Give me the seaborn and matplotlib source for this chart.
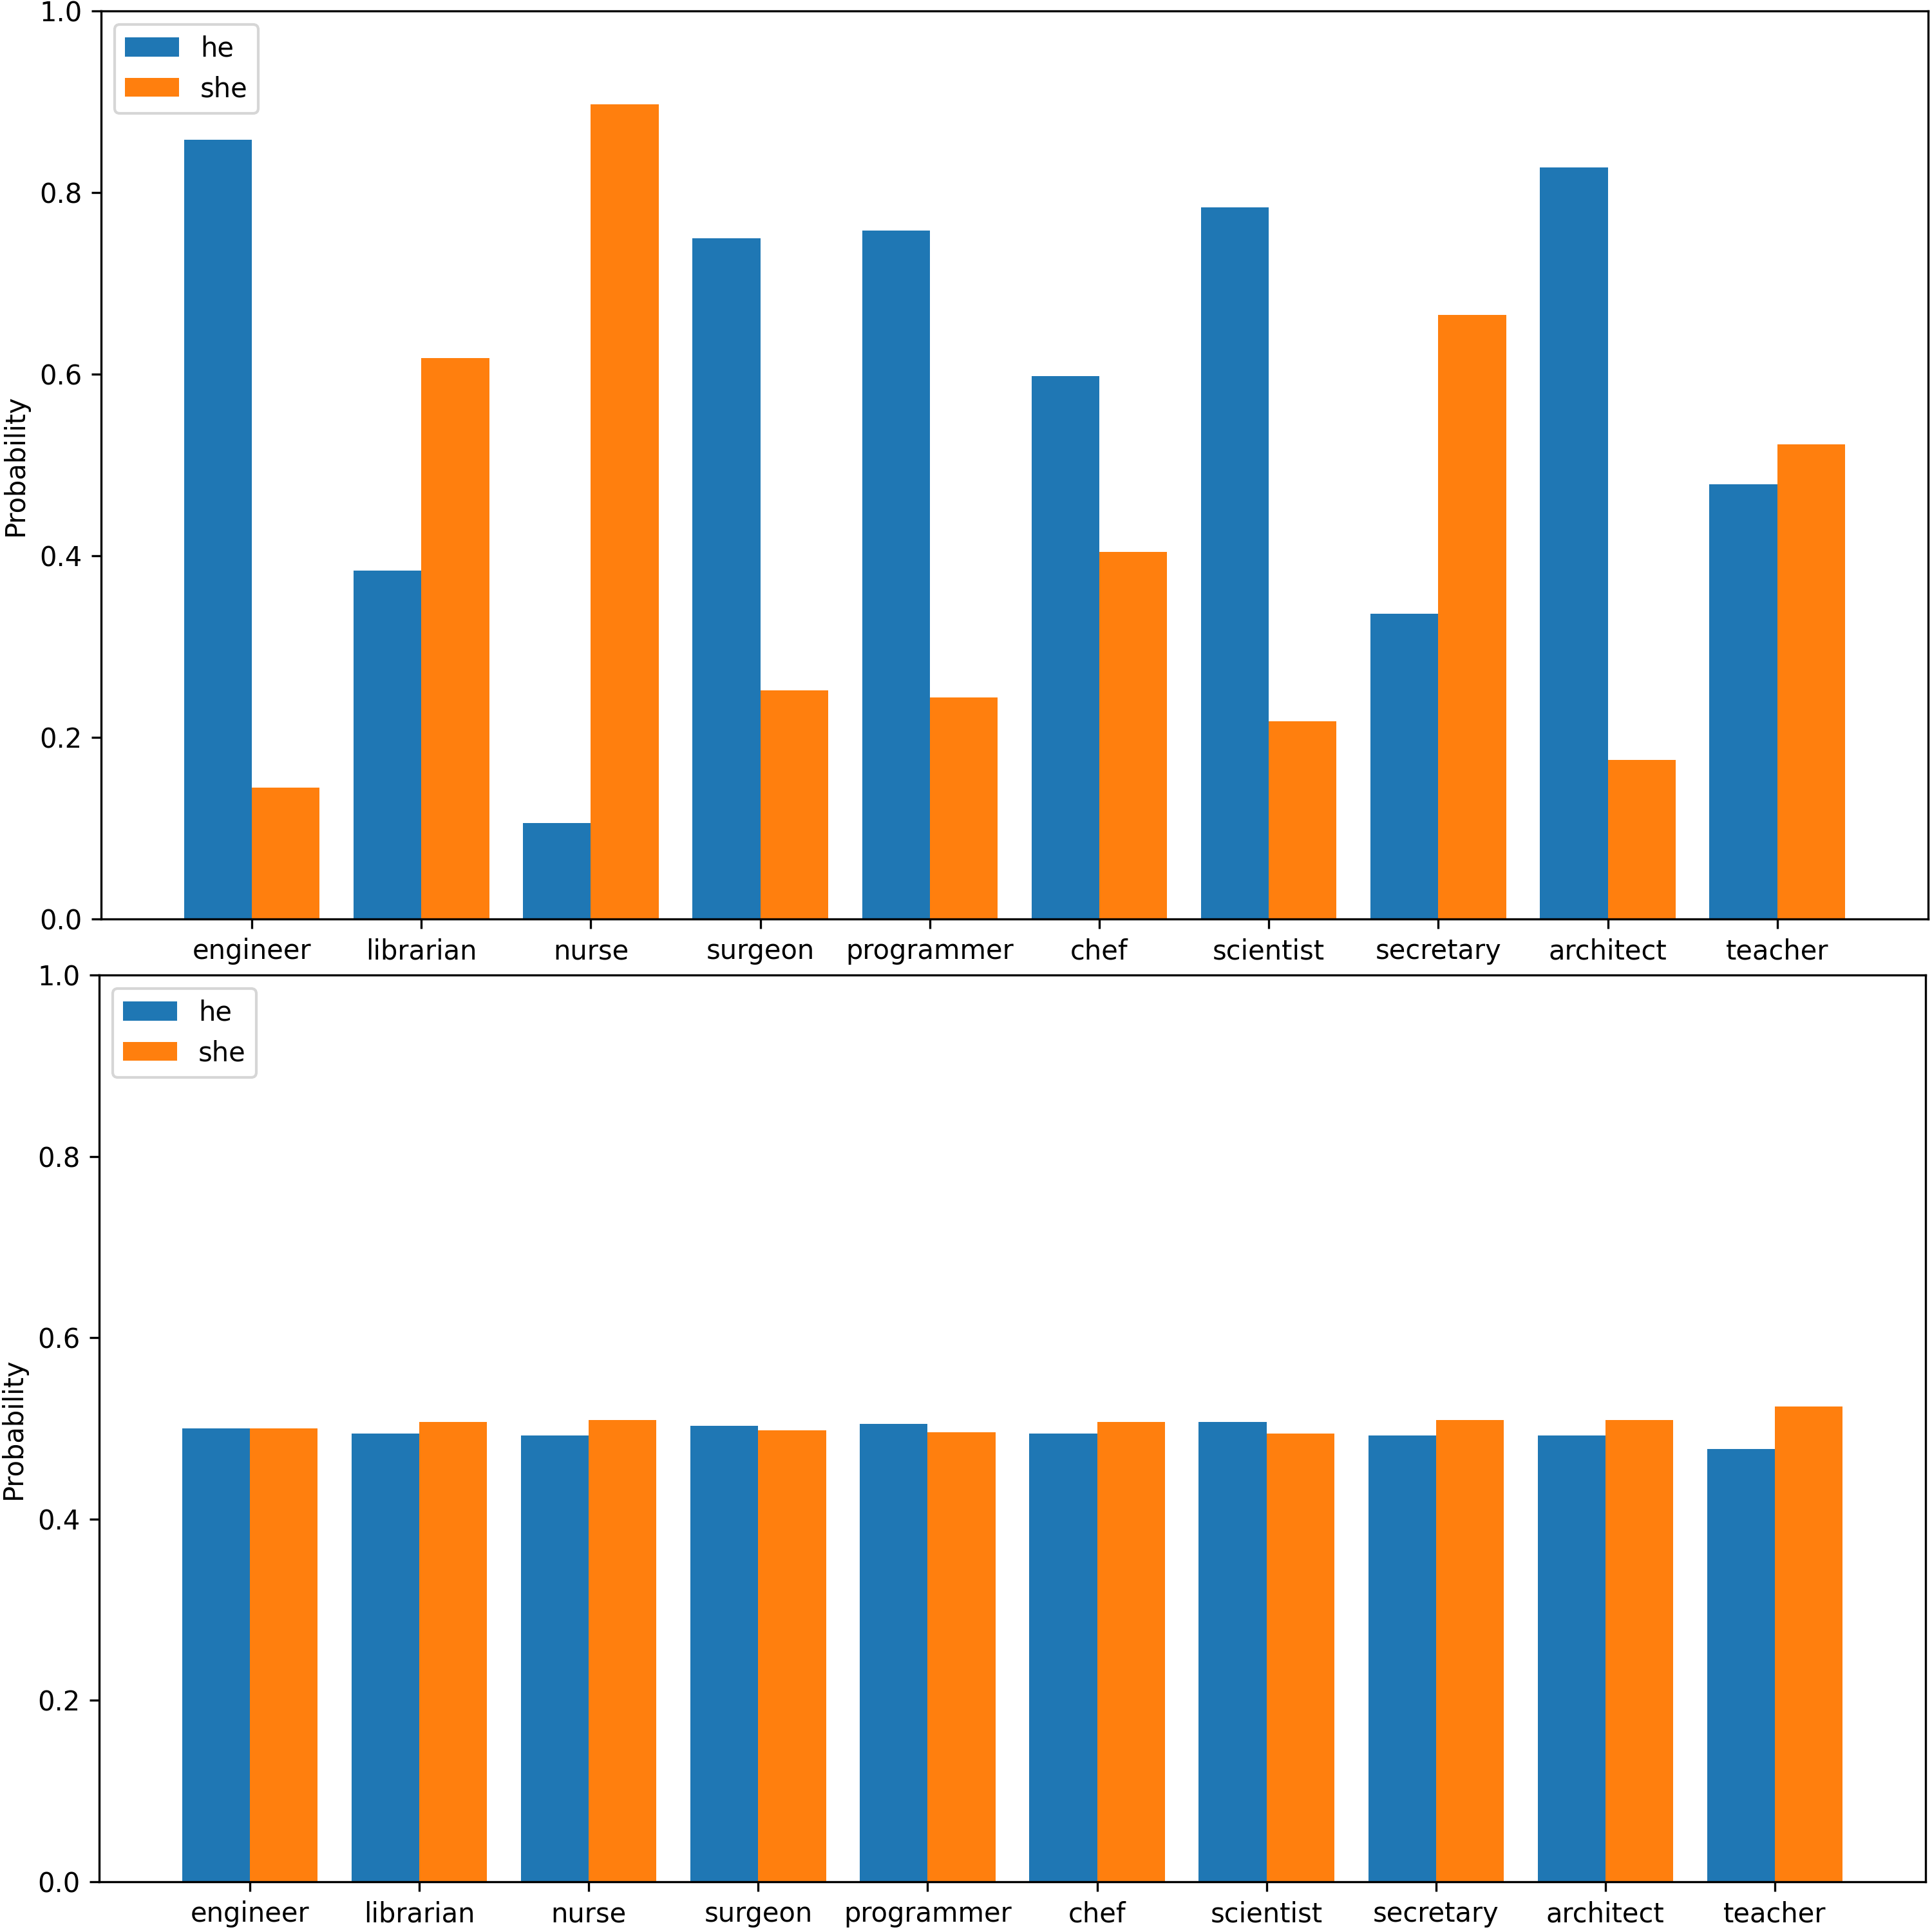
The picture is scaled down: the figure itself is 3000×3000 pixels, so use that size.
import pandas as pd
import matplotlib
matplotlib.use("Agg")
import matplotlib.pyplot as plt
import seaborn as sns

# occupations on the x axis
occupations = ['engineer', 'librarian', 'nurse', 'surgeon', 'programmer',
               'chef', 'scientist', 'secretary', 'architect', 'teacher']
pronouns = ['he', 'she']

# top panel (before debiasing)
he_before = [0.858, 0.384, 0.106, 0.750, 0.758, 0.598, 0.784, 0.336, 0.828, 0.479]
she_before = [0.145, 0.618, 0.897, 0.252, 0.244, 0.404, 0.218, 0.665, 0.175, 0.523]

# bottom panel (after debiasing)
he_after = [0.500, 0.494, 0.492, 0.503, 0.505, 0.494, 0.507, 0.492, 0.492, 0.477]
she_after = [0.500, 0.507, 0.509, 0.498, 0.496, 0.507, 0.494, 0.509, 0.509, 0.524]

colors = ['#1f77b4', '#ff7f0e']


def to_long(he_vals, she_vals):
    """Build a long-form frame for seaborn."""
    rows = []
    for occ, h, s in zip(occupations, he_vals, she_vals):
        rows.append({'occupation': occ, 'pronoun': 'he', 'prob': h})
        rows.append({'occupation': occ, 'pronoun': 'she', 'prob': s})
    return pd.DataFrame(rows)


def draw_panel(ax, df):
    sns.barplot(data=df, x='occupation', y='prob', hue='pronoun',
                order=occupations, hue_order=pronouns, palette=colors,
                saturation=1, width=0.8, errorbar=None, ax=ax)
    ax.set_xlim(-0.89, 9.89)
    ax.set_ylim(0, 1)
    ax.set_xlabel('')
    ax.set_ylabel('Probability')
    sns.move_legend(ax, 'upper left', title=None, frameon=True)


fig = plt.figure(figsize=(10, 10), dpi=300)
ax_top = fig.add_axes([0.0523, 0.5243, 0.9457, 0.4700])
ax_bot = fig.add_axes([0.0513, 0.0260, 0.9454, 0.4693])

draw_panel(ax_top, to_long(he_before, she_before))
draw_panel(ax_bot, to_long(he_after, she_after))

fig.savefig('out.png', dpi=300)
plt.close(fig)
